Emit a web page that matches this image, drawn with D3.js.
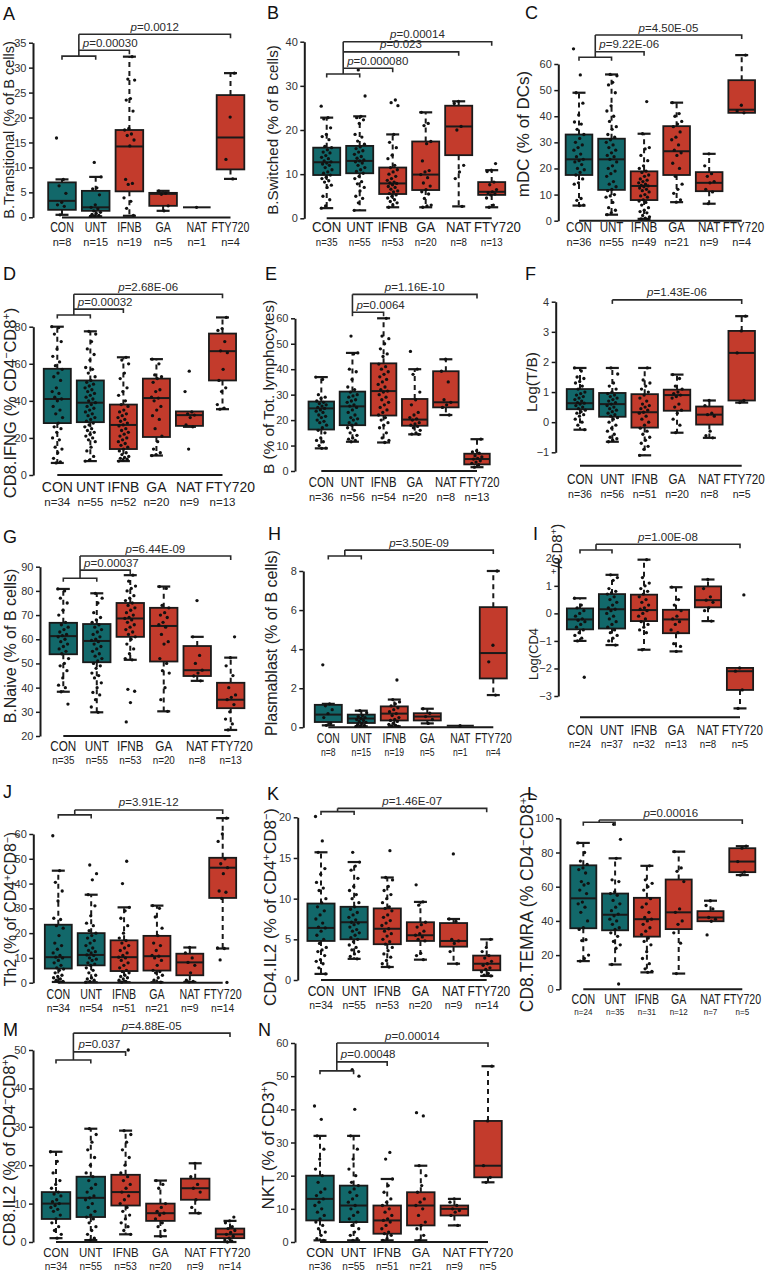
<!DOCTYPE html>
<html><head><meta charset="utf-8">
<script src="https://cdn.jsdelivr.net/npm/d3@7"></script>
<style>
html,body{margin:0;padding:0;background:#fff;}
svg{display:block;}
text{font-family:"Liberation Sans",Arial,Helvetica,sans-serif;}
</style>
</head><body>
<svg id="chart" width="769" height="1273"></svg>
<script>
// ---------------- DATA ----------------
const categories = ["CON","UNT","IFNB","GA","NAT","FTY720"];
const groupKind = ["ctrl","ctrl","trt","trt","trt","trt"];
const panelIds = ["A","B","C","D","E","F","G","H","I","J","K","L","M","N"];

// y-axis titles (segments; sup = superscript)
const titleA = [{t:"B.Transitional (% of B cells)"}];
const titleB = [{t:"B.Switched (% of B cells)"}];
const titleC = [{t:"mDC (% of DCs)"}];
const titleD = [{t:"CD8.IFNG (% CD4"},{t:"\u2212",sup:1},{t:"CD8"},{t:"+",sup:1},{t:")"}];
const titleE = [{t:"B (% of Tot. lymphocytes)"}];
const titleF = [{t:"Log(T/B)"}];
const titleG = [{t:"B.Naive (% of B cells)"}];
const titleH = [{t:"Plasmablast (% of B cells)"}];
const titleI = [{t:"Log(CD4"}];
const titleI2 = [{t:"+",sup:1},{t:"/CD8"},{t:"+",sup:1},{t:")"}];
const titleJ = [{t:"Th2 (% of CD4"},{t:"+",sup:1},{t:"CD8"},{t:"\u2212",sup:1},{t:")"}];
const titleK = [{t:"CD4.IL2 (% of CD4"},{t:"+",sup:1},{t:"CD8"},{t:"\u2212",sup:1},{t:")"}];
const titleL = [{t:"CD8.TEMRA (% CD4"},{t:"\u2212",sup:1},{t:"CD8"},{t:"+",sup:1},{t:")"}];
const titleM = [{t:"CD8.IL2 (% of CD4"},{t:"\u2212",sup:1},{t:"CD8"},{t:"+",sup:1},{t:")"}];
const titleN = [{t:"NKT (% of CD3"},{t:"+",sup:1},{t:")"}];

// y ticks
const ticksA = [0,5,10,15,20,25,30,35];
const ticksB = [0,10,20,30,40];
const ticksC = [0,10,20,30,40,50,60];
const ticksD = [0,20,40,60,80];
const ticksE = [0,10,20,30,40,50,60];
const ticksF = [-1,0,1,2,3,4];
const ticksG = [20,30,40,50,60,70,80,90];
const ticksH = [0,2,4,6,8];
const ticksI = [-3,-2,-1,0,1,2];
const ticksJ = [0,10,20,30,40,50,60];
const ticksK = [0,5,10,15,20];
const ticksL = [0,20,40,60,80,100];
const ticksM = [0,10,20,30,40,50];
const ticksN = [0,10,20,30,40,50,60];

// sample sizes
const nA = [8,15,19,5,1,4];
const nB = [35,55,53,20,8,13];
const nC = [36,55,49,21,9,4];
const nD = [34,55,52,20,9,13];
const nE = [36,56,54,20,8,13];
const nF = [36,56,51,20,8,5];
const nG = [35,55,53,20,8,13];
const nH = [8,15,19,5,1,4];
const nI = [24,37,32,13,8,5];
const nJ = [34,54,51,21,9,14];
const nK = [34,55,53,20,9,14];
const nL = [24,35,31,12,7,5];
const nM = [34,55,53,20,9,14];
const nN = [36,55,51,21,9,5];

// box stats per category: [lower whisker, Q1, median, Q3, upper whisker]
const statsA = [[0.5,1.5,3.3,7.0,7.6],[0.2,1.3,2.0,5.3,8.1],[0.3,5.2,14.2,17.5,32.2],[1.3,2.3,4.7,4.9,5.3],[2.0,2.0,2.0,2.0,2.0],[7.7,9.6,16.0,24.5,28.9]];
const statsB = [[2.3,9.8,12.7,16.0,22.8],[1.8,10.2,13.0,16.4,23.1],[2.5,5.5,7.9,11.5,19.0],[2.5,6.4,9.9,17.4,24.0],[2.7,14.3,20.8,25.5,26.5],[2.5,5.3,6.0,8.2,10.9]];
const statsC = [[5.8,17.5,23.5,33.0,49.0],[2.3,11.8,23.5,31.4,56.0],[0.7,7.9,13.3,18.9,33.3],[7.1,17.5,26.6,36.2,45.2],[6.5,11.3,14.5,18.6,25.6],[41.3,41.3,42.5,53.8,63.4]];
const statsD = [[6.5,28,41,57.3,80],[7.5,28.5,39,51,77.5],[7.5,14,27,38,63.5],[10.5,20.5,41.5,52,62.5],[26,26.5,32.3,34.3,34.3],[35.5,51,66.8,76.3,85]];
const statsE = [[8.9,16.3,24.6,27.3,36.9],[11.5,18,25.4,31.2,46.4],[11.2,21.8,31.4,42.3,60],[14.4,17.8,20.2,28.3,40],[22,25,27,39.2,43.9],[1.5,2.6,4.7,6.8,12.5]];
const statsF = [[-0.25,0.43,0.63,1.1,1.8],[-0.65,0.18,0.6,0.97,1.8],[-1.1,-0.18,0.33,0.93,1.8],[-0.35,0.38,0.9,1.08,1.58],[-0.52,-0.08,0.25,0.52,0.72],[0.65,0.72,2.3,3.03,3.52]];
const statsG = [[38.3,53.8,61.3,66.8,80.8],[29.8,50.5,59.3,66.3,79],[51.5,61,68.6,75,86.5],[30.2,50.8,65.5,73,81.8],[42.8,44.8,47.2,57.2,61],[22.5,31.5,35,42,52.4]];
const statsH = [[0.1,0.27,0.65,1.15,1.2],[0.05,0.22,0.45,0.65,0.85],[0.05,0.35,0.7,1.07,1.42],[0.2,0.35,0.55,0.72,0.95],[0.08,0.08,0.08,0.08,0.08],[1.65,2.5,3.8,6.15,8.0]];
const statsI = [[-1.0,-0.58,-0.22,0.18,0.55],[-1.15,-0.55,0.15,0.7,1.4],[-1.32,-0.28,0.12,0.68,1.95],[-1.38,-0.72,-0.22,0.13,0.95],[-0.28,0.22,0.48,0.98,1.23],[-3.45,-2.78,-2.1,-1.98,-1.98]];
const statsJ = [[0.3,5.7,10.3,23.4,45.2],[0.2,7,11.2,20,35.5],[0.2,4.7,10.3,17.1,30.4],[0.2,4.9,10.7,18.9,31.1],[0.3,3,8.2,11.7,14.2],[13.8,34.2,46.4,50.4,66.4]];
const statsK = [[0.75,4.8,6.4,9.4,15.7],[2.6,5.0,7.1,9.0,14.5],[1.6,4.4,6.3,8.8,12.6],[2.5,4.8,5.5,7.1,9.6],[2.0,4.1,4.8,7.0,7.5],[0.5,1.2,2.0,3.0,5.0]];
const statsL = [[16.5,35.7,53.2,72.5,85.6],[14.5,34.5,43.6,56,76.6],[9.9,30.8,41,53.5,72.2],[9.2,35.2,45,64.2,80.5],[39.8,39.8,42,45.7,51.8],[66.8,68.5,74.7,82.5,83.7]];
const statsM = [[1,6,10,13,23.5],[0.5,6.5,11.5,17,29.5],[2,9.5,13,17.5,29],[1.5,5.5,7.5,10,16],[7.5,11,14,16.5,20.5],[0,1,2,3.5,5.5]];
const statsN = [[0.5,6.5,13,20,32],[0.5,6,11,17,32],[0.5,2.5,6.5,11,19],[0.5,5,11,15,23],[5,8,10,11,13],[18,19.5,23,36.5,53]];

const ptsA = [[15.9,7.6,6.3,4.8,3.0,2.5,2.2,0.5],[11.0,8.1,5.9,5.7,4.5,2.5,2.0,1.7,1.3,1.0,0.8,0.6,0.4,0.3,0.2],[32.2,27.7,27.5,23.8,23.5,21.3,17.8,17.5,16.7,16.4,15.5,14.3,7.6,6.8,6.6,3.9,3.2,1.8,0.4],[5.3,4.8,4.6,2.3,1.3],[2.0],[28.9,20.1,11.6,7.7]];
const ptsB = [[25.4,22.8,22.5,20.5,19.0,18.5,17.8,16.3,16.0,15.5,15.0,14.8,14.2,13.8,13.5,13.0,12.8,12.5,12.3,12.0,11.5,11.0,10.5,10.2,9.8,9.3,9.0,8.5,8.2,7.5,7.0,5.0,4.2,2.8,2.3],
 [33.6,27.7,23.1,22.8,22.3,21.5,19.0,18.4,17.5,16.8,16.2,15.8,15.3,15.0,14.5,14.0,13.6,13.2,13.0,12.8,12.5,12.0,11.5,11.0,10.6,10.2,9.5,9.0,8.3,7.8,7.0,6.2,5.0,4.5,3.5,1.8],
 [26.8,26.2,25.5,19.0,17.2,16.0,14.3,13.5,12.0,11.5,11.0,10.5,10.0,9.5,9.0,8.6,8.2,8.0,7.9,7.6,7.2,7.0,6.6,6.2,6.0,5.6,5.3,5.0,4.6,4.2,3.8,3.5,3.0,2.5],
 [24.0,21.5,21.0,17.4,16.9,13.0,10.8,10.5,9.9,9.2,8.0,7.3,6.5,6.0,5.5,4.5,3.0,2.8,2.5],
 [26.5,26.0,20.8,20.0,12.0,10.5,9.0,2.7],
 [12.4,10.9,10.6,8.2,7.6,6.5,6.0,5.8,5.5,5.3,4.6,3.0,2.5]];
const ptsC = [[65.8,55.8,49.0,45,40.5,37.8,37,35,33,31.5,30,29,28,27,25.5,24.5,23.5,23,22.5,21.5,20,19.5,18.5,17.5,16,14.5,14,8.5,7.8,6,5.8],
 [56,55.5,53,52,49,44,42,40,38,36,35,33,32,31,30,29,28,27,26,25,24.5,23.5,22.5,21,20,19,18,17,15,14,13,12,11.5,10,9.5,9,7,5,4,3,2.3],
 [45.6,33.3,28,27.5,25,23,21,20,19,18.5,17.5,17,16,15.5,15,14.5,14,13.5,13.3,13,12.5,12,11.5,11,10,9.5,9,8,7.5,7,6,5,4,3.5,3,2,1.5,1,0.7,0.5],
 [45.2,41,40,38,37,36,34,32,31,29,27,26,25,22,20,17,14,12,10.5,8,7.1],
 [25.6,21,18,17,15,14.5,12,11,6.5],
 [63.4,44.2,42,41.3]];
const ptsD = [[80,79.5,76,72,68,64,61,59,57,55,53,51,47,45,44,42,41,40,37,35,33,31,28,26,25,23,20,19,15,14,12,9,7,6.5],
 [77.5,76,72,68,65,62,58,57,55,53,51,50,49,48,47,46,45,44,43,42,41,40,39,38,37,36,35,34,33,32,31,30,29,28,27,26,25,24,23,22,21,20,19,18,15,13,10,8,7.5],
 [63.5,62,60,55,52,47,45,43,40,38,37,35,34,33,32,31,30,29,28,27,26.5,25,24,23,22,21,20,19,18,17,16,15,14,13,12,11,10,9.5,9,8.5,8,7.5],
 [62.5,60,54,53,52,50,46,45,42,41.5,40,37,35,32,30,25,21,18,14,12,11,10.5],
 [56,45,34,33,32.3,31,27,26,14],
 [85,79,78,72,67,66,57,51,47,45,38,36,35.5]];
const ptsE = [[36.9,36,30,29,28.5,27.5,27,26.5,26,25.5,25,24.6,24,23.5,23,22,21.5,21,20,19.5,19,18,17,16,15,13,12,11.5,10,9,8.9],
 [53,46.4,46,40,39,36,33,32,31,30,29.5,29,28,27.5,27,26,25.5,25,24,23,22,21,20.5,20,19,18.5,18,17,16,15,14,13,12.5,12,11.5],
 [60,53,52,50,48,46,45,42,41,40,39,38,37,36,35,34,33,32,31.4,31,30,29,28,27,26,25,24,23,22,21,20,19,18,17,15,13,12,11.2],
 [47,40,38,31,28,26,23,22,21,20.5,20,19,18.5,18,17.5,17,16,15,14.5,14.4],
 [43.9,39.2,35,28,27,26,25,22],
 [12.5,8,7.5,7,6,5.5,5,4.7,4,3.5,3,2.5,1.5]];
const ptsF = [[1.8,1.7,1.5,1.45,1.35,1.3,1.2,1.1,1.0,0.95,0.9,0.85,0.8,0.75,0.7,0.65,0.63,0.6,0.55,0.5,0.45,0.4,0.35,0.3,0.25,0.2,0.1,0,-0.1,-0.25],
 [1.8,1.6,1.3,1.2,1.1,1.0,0.95,0.9,0.85,0.8,0.75,0.7,0.65,0.6,0.55,0.5,0.45,0.4,0.35,0.3,0.25,0.2,0.15,0.1,0,-0.1,-0.2,-0.3,-0.4,-0.5,-0.55,-0.6,-0.65],
 [1.8,1.4,1.3,1.2,1.1,1.0,0.9,0.8,0.7,0.6,0.55,0.5,0.45,0.4,0.33,0.3,0.2,0.1,0,-0.1,-0.2,-0.3,-0.4,-0.5,-0.6,-0.7,-0.8,-0.9,-1.1],
 [1.58,1.45,1.2,1.1,1.0,0.95,0.9,0.85,0.8,0.6,0.5,0.4,0.3,0.1,-0.1,-0.35],
 [0.72,0.55,0.3,0.25,0.2,-0.3,-0.45,-0.52],
 [3.52,3.03,2.3,0.72,0.65]];
const ptsG = [[80.8,80,77,75,72,70,67,66,65,64,63,62,61.5,61,60,59,58,57,56,55,54,52,50,49,47,44,41,40,38.3,33.2],
 [79,77,75,71,69,68,67,66,65,64,63,62,61,60,59.5,59,58,57,56,55,54,53,52,51,50,49,48,46,45,44,42,40,38,37,35,32,29.8],
 [86.5,84,82,81,80,78,77,76,75,74,73,72,71,70,69,68.6,68,67,66,65,64,63,62,61,60,58,56,54,52,51.5,39.3,38.5,33.8,25.8],
 [81.8,81,74,73,71,70,69,67,66,65,62,59,58,52,50,47,46,40,35,30.2],
 [76,61,53.3,50,47.2,46,44.8,42.8],
 [61,52.4,49,45,40,37,36,35,33,30,27,25,22.5]];
const ptsH = [[3.2,1.2,1.1,0.9,0.7,0.5,0.2,0.1],
 [0.85,0.75,0.6,0.55,0.5,0.45,0.4,0.35,0.3,0.25,0.2,0.15,0.1,0.07,0.05],
 [2.42,1.42,1.3,1.2,1.1,1.0,0.9,0.8,0.7,0.6,0.5,0.4,0.35,0.3,0.2,0.15,0.1,0.07,0.05],
 [0.95,0.72,0.55,0.4,0.2],
 [0.08],
 [8.0,4.2,3.35,1.65]];
const ptsI = [[0.55,0.3,0.2,0.1,0,-0.1,-0.2,-0.25,-0.3,-0.4,-0.5,-0.6,-0.7,-0.8,-0.9,-1.0,-2.32],
 [1.4,1.3,1.2,0.9,0.8,0.75,0.7,0.6,0.5,0.4,0.3,0.2,0.15,0.1,0,-0.1,-0.2,-0.3,-0.4,-0.5,-0.6,-0.7,-0.8,-0.9,-1.0,-1.15],
 [1.95,1.3,1.1,1.0,0.9,0.8,0.7,0.6,0.5,0.4,0.3,0.2,0.15,0.1,0,-0.1,-0.2,-0.3,-0.4,-0.5,-0.6,-0.7,-1.32],
 [0.95,0.5,0.3,0.1,-0.1,-0.2,-0.3,-0.4,-0.6,-0.7,-1.1,-1.2,-1.38],
 [1.23,0.9,0.6,0.48,0.4,0.2,0.1,-0.28],
 [0.67,-1.98,-2.1,-2.78,-3.45]];
const ptsJ = [[59.3,45.2,40.5,37,33,26,25.5,23,22,19,16,15,13.5,12,11,10.3,10,9,8,7,6,5.5,5,4,3,2.5,2,1.5,1,0.5,0.3],
 [47.5,44,41.5,35.5,31,27,24,23,21,20,19,18,17,16,15,14,13,12.5,12,11.2,11,10,9.5,9,8,7.5,7,6,5,4,3,2,1.5,1,0.5,0.2],
 [49,40,30.4,29,26,23,20,18,17,16,15,14,13,12,11,10.3,10,9,8,7,6,5,4.5,4,3,2.5,2,1.5,1,0.5,0.2],
 [31.1,30,26.5,22,19,16,15,13,11,10.7,10,9,7,5,4.5,4,3,2,1,0.2],
 [14.2,12,10,8.2,7,4,1,0.5,0.3],
 [66.4,60,57,50,48,46.4,44,37,36.5,34,14,13.8,9.2,0.1]];
const ptsK = [[20.1,17.1,15.7,13.7,13,12,11.3,11,10,9.5,9,8.5,8,7.5,7,6.5,6.4,6,5.5,5,4.5,4,3.7,3.5,3,2.5,2.3,2,1.5,0.75],
 [15.7,14.5,14,13.5,12.5,11.5,11,10.5,10,9.5,9,8.7,8.3,8,7.7,7.4,7.1,7,6.8,6.5,6.2,6,5.8,5.5,5.2,5,4.7,4.3,4,3.7,3.5,3.2,2.9,2.6],
 [15.9,12.6,12.3,11.5,11,10.5,10,9.5,9,8.8,8.5,8,7.7,7.3,7,6.7,6.3,6,5.7,5.4,5,4.7,4.4,4,3.6,3.2,2.8,2.4,2,1.6],
 [11.7,9.6,9.2,7.1,6.8,6.5,6,5.7,5.5,5.3,5,4.8,3.3,3,2.5],
 [15.5,7.5,7.2,5,4.8,4.5,3.5,2.0],
 [5.0,4.0,3.5,3,2.7,2.3,2,1.8,1.5,1.3,1,0.8,0.6,0.5]];
const ptsL = [[85.6,80,75,73,71,70,68,63,62,61,58,56,51,50,48,45,40,36,35,29,28.5,20,18,16.5],
 [96.5,87.7,76.6,64,63,57,56,55,52,50,48,46,44,43,41,40,38,36,35,33,31,28,26,24,14.5,3.1],
 [72.2,64,62,60,58,53,50,48,45,42,41,40,38,36,34,32,30,28,26,22,18,15,12,10.5,9.9],
 [80.5,71,69,63,47,45,40,38,33,27,9.2],
 [51.8,49,47,42,41,39.8,31.8],
 [83.7,82.5,74.7,68.5,66.8]];
const ptsM = [[23.5,21,18,16,15,14,13,12.5,12,11,10.5,10,9.5,9,8.5,8,7,6,5,4,3,2,1],
 [29.5,28,26,24,22,20,18,17,16,15,14,13,12,11.5,11,10,9,8,7,6.5,6,5,4,3,2,1,0.5],
 [50,29,28,26,24,22,20,18,17,16,15,14,13,12,11,10,9,8,7,6,5,4,3,2],
 [16,15,14,10,9,8,7.5,7,6,5,4,3,1.5],
 [20.5,17,15,14,13,11,9,7.5],
 [6.5,5.5,5,4,3.5,3,2.5,2,1.5,1,0.5,0.3,0]];
const ptsN = [[41,37,32,28,25,22,20,18,16,15,14,13,12,11,10,9,8,7,6,5,4,3,2,1,0.5],
 [52,50,40,32,28,25,22,20,18,17,16,15,14,13,12,11,10,9,8,7,6,5,4,3,2,1,0.5],
 [27,25,19,17,15,13,12,11,10,9,8,7,6.5,6,5,4,3,2.5,2,1,0.5],
 [39,38,23,20,17,15,13,12,11,10,8,6,5,4,2,0.5],
 [13,12,11,10,9.5,9,8,5],
 [53,36.5,23,19.5,18]];

// significance tests: [reference group indices, target index, p-value text]
const testsA = [[[0,1],2,"0.00030"],[[0,1],5,"0.0012"]];
const testsB = [[[0,1],2,"0.000080"],[[0,1],4,"0.023"],[[0,1],5,"0.00014"]];
const testsC = [[[0,1],2,"9.22E-06"],[[0,1],5,"4.50E-05"]];
const testsD = [[[0,1],2,"0.00032"],[[0,1],5,"2.68E-06"]];
const testsE = [[[1],2,"0.0064"],[[1],5,"1.16E-10"]];
const testsF = [[[1],5,"1.43E-06"]];
const testsG = [[[0,1],2,"0.00037"],[[0,1],5,"6.44E-09"]];
const testsH = [[[0,1],5,"3.50E-09"]];
const testsI = [[[0,1],5,"1.00E-08"]];
const testsJ = [[[0,1],5,"3.91E-12"]];
const testsK = [[[0,1],5,"1.46E-07"]];
const testsL = [[[0,1],5,"0.00016"]];
const testsM = [[[0,1],2,"0.037"],[[0,1],5,"4.88E-05"]];
const testsN = [[[0,1],2,"0.00048"],[[0,1],5,"0.00014"]];

// ---------------- LAYOUT (positions / sizes) ----------------
const layout = {
 A:{ax:33, yv:[0,35], yp:[217.3,42.7], xl:217.5, cx:[62,230.5], catY:233.3, nY:245, catFs:15, catSx:0.71, nFs:11, nSx:1.0, tt:[9,130,14.5], lt:[3,20], grp:32.3, lev:[33.5,36.7]},
 B:{ax:304.3, yv:[0,40], yp:[218.3,41.7], xl:218.3, cx:[326.7,491.7], catY:233.3, nY:245, catFs:15, catSx:0.88, nFs:11, nSx:0.88, tt:[273,130,15.2], lt:[267,18.5], grp:32.7, lev:[34.0,37.7,40.0]},
 C:{ax:558.3, yv:[0,60], yp:[220.7,64], xl:220.7, cx:[579,741.7], catY:233.3, nY:245, catFs:14.5, catSx:0.8, nFs:11, nSx:1.0, tt:[523.5,134,17], lt:[525,18.5], grp:62.6, lev:[64.7,71.1]},
 D:{ax:33.3, yv:[0,80], yp:[475,326.7], xl:475, cx:[57.3,222.5], catY:494.3, nY:504.3, catFs:15, catSx:0.93, nFs:11.5, nSx:1.0, tt:[10,403,16.5], lt:[3,280], grp:86.3, lev:[89.5,97.5]},
 E:{ax:295, yv:[0,60], yp:[471,318.3], xl:471, cx:[321.3,477], catY:488.3, nY:500, catFs:15.5, catSx:0.73, nFs:11, nSx:1.0, tt:[268.5,387,15.4], lt:[265,280], grp:null, lev:[62.4,69.4]},
 F:{ax:555.7, yv:[-1,4], yp:[452.3,301.7], xl:465.7, cx:[580,741.7], catY:485, nY:496.7, catFs:15, catSx:0.78, nFs:11.5, nSx:0.92, tt:[531.5,382,15.4], lt:[525,280], grp:null, lev:[4.06]},
 G:{ax:40, yv:[20,90], yp:[736,566.7], xl:736, cx:[63.3,230.7], catY:753.3, nY:761.7, catFs:14, catSx:0.84, nFs:10.5, nSx:0.94, tt:[10,646,16], lt:[3,543], grp:85.2, lev:[88.6,94.4]},
 H:{ax:303.3, yv:[0,8], yp:[727.3,571], xl:727.3, cx:[328.3,493.3], catY:745, nY:753.3, catFs:14, catSx:0.74, nFs:10.5, nSx:0.82, tt:[271.5,643,16], lt:[268,540], grp:8.77, lev:[9.07]},
 I:{ax:558.3, yv:[-3,2], yp:[696,558.3], xl:717.3, cx:[580,740], catY:736.7, nY:746.7, catFs:14.5, catSx:0.8, nFs:11, nSx:0.88, tt:[533.5,654,13], tt2:[557,549,15], lt:[533,540], grp:2.30, lev:[2.51]},
 J:{ax:33.3, yv:[0,60], yp:[982.7,834], xl:982.7, cx:[58.3,222.7], catY:1000, nY:1010.7, catFs:14, catSx:0.76, nFs:11, nSx:0.94, tt:[10,909,15.9], lt:[3,798], grp:67.7, lev:[69.7]},
 K:{ax:297.7, yv:[0,20], yp:[980,817.3], xl:980, cx:[321,486.7], catY:997.3, nY:1007.7, catFs:15, catSx:0.8, nFs:11, nSx:0.95, tt:[270,907,17], lt:[267,800], grp:20.7, lev:[21.1]},
 L:{ax:560, yv:[0,100], yp:[989.3,818.3], xl:989.3, cx:[583.3,742.3], catY:1005, nY:1014, catFs:14.5, catSx:0.73, nFs:9.5, nSx:0.85, tt:[526.5,902,17.5], lt:[527,800], grp:97.7, lev:[99.0]},
 M:{ax:33, yv:[0,50], yp:[1242,1050], xl:1242, cx:[56,230], catY:1257.5, nY:1269.5, catFs:13.5, catSx:0.85, nFs:10.5, nSx:0.95, tt:[9,1150,16.5], lt:[3,1036], grp:47.4, lev:[49.5,54.4]},
 N:{ax:295, yv:[0,60], yp:[1242,1043], xl:1242, cx:[320,488], catY:1257.5, nY:1269.5, catFs:13.5, catSx:0.92, nFs:10.5, nSx:0.95, tt:[268,1145,17], lt:[258,1036], grp:51.6, lev:[54.3,60.0]}
};

const colors = {ctrl:"#12686a", trt:"#c33b2c"};
const ink = "#1a1a1a";
const maxRight = 766;

// ---------------- DRAW ----------------
const svg = d3.select("#chart");

function addTitle(g, segs, x, y, fs) {
  const t = g.append("text")
    .attr("transform", `translate(${x},${y}) rotate(-90)`)
    .attr("text-anchor","middle").attr("dy","0.35em")
    .attr("font-size", fs).attr("fill","#222");
  segs.forEach(s => {
    if (s.sup) t.append("tspan").attr("baseline-shift","super").attr("font-size", fs*0.65).text(s.t);
    else t.append("tspan").text(s.t);
  });
}

// place a row of horizontally-scaled labels, pushing right any that would collide
function labelRow(g, texts, xs, yPos, fs, sx, fill, gap) {
  const els = texts.map(s => g.append("text").attr("text-anchor","middle")
    .attr("font-size", fs).attr("fill", fill).text(s));
  let prevRight = -Infinity;
  els.forEach((el,i) => {
    const w = el.node().getComputedTextLength() * sx;
    let cx = xs[i];
    if (cx - w/2 < prevRight + gap) cx = prevRight + gap + w/2;
    if (cx + w/2 > maxRight) cx = maxRight - w/2;
    prevRight = cx + w/2;
    el.attr("transform", `translate(${cx},${yPos}) scale(${sx},1)`);
  });
}

function drawPanel(id, data) {
  const lay = layout[id];
  const g = svg.append("g").attr("class","panel-"+id);
  const y = d3.scaleLinear().domain(lay.yv).range(lay.yp);
  const x = d3.scalePoint().domain(categories).range(lay.cx).padding(0);
  const step = x.step();
  const bw = step * 0.82;
  const cw = 13;

  // y axis
  const ag = g.append("g").attr("transform", `translate(${lay.ax},0)`)
    .call(d3.axisLeft(y).tickValues(data.ticks).tickSize(4).tickSizeOuter(0).tickPadding(2.5).tickFormat(d3.format("d")));
  ag.attr("font-family", null).attr("font-size", 11);
  ag.select(".domain").attr("stroke", ink).attr("stroke-width", 2);
  ag.selectAll(".tick line").attr("stroke", ink).attr("stroke-width", 1.5);
  ag.selectAll(".tick text").attr("fill", "#333");

  // bottom axis line
  g.append("line").attr("x1", x(categories[0])).attr("x2", x(categories[categories.length-1]))
    .attr("y1", lay.xl).attr("y2", lay.xl).attr("stroke", ink).attr("stroke-width", 2);

  // category and n labels (keep the two rows from colliding)
  let catY = lay.catY, nY = lay.nY;
  const need = 0.905*lay.nFs + 0.212*lay.catFs + 0.3 - (nY - catY);
  if (need > 0) { catY -= need/2; nY += need/2; }
  const xs = categories.map(c => x(c));
  labelRow(g, categories, xs, catY, lay.catFs, lay.catSx, "#1a1a1a", 2.5);
  labelRow(g, data.n.map(v => "n=" + v), xs, nY, lay.nFs, lay.nSx, "#222", 2);

  // boxes
  data.stats.forEach((s,i) => {
    const cx = x(categories[i]);
    const [lo,q1,md,q3,hi] = s;
    const bg = g.append("g");
    if (lo < q1) {
      bg.append("line").attr("x1",cx).attr("x2",cx).attr("y1",y(q1)).attr("y2",y(lo))
        .attr("stroke",ink).attr("stroke-width",2).attr("stroke-dasharray","5,4");
      bg.append("line").attr("x1",cx-cw/2).attr("x2",cx+cw/2).attr("y1",y(lo)).attr("y2",y(lo))
        .attr("stroke",ink).attr("stroke-width",2.2);
    }
    if (hi > q3) {
      bg.append("line").attr("x1",cx).attr("x2",cx).attr("y1",y(q3)).attr("y2",y(hi))
        .attr("stroke",ink).attr("stroke-width",2).attr("stroke-dasharray","5,4");
      bg.append("line").attr("x1",cx-cw/2).attr("x2",cx+cw/2).attr("y1",y(hi)).attr("y2",y(hi))
        .attr("stroke",ink).attr("stroke-width",2.2);
    }
    bg.append("rect").attr("x",cx-bw/2).attr("width",bw)
      .attr("y",y(q3)).attr("height",Math.max(0,y(q1)-y(q3)))
      .attr("fill",colors[groupKind[i]]).attr("stroke",ink).attr("stroke-width",1.8);
    bg.append("line").attr("x1",cx-bw/2).attr("x2",cx+bw/2).attr("y1",y(md)).attr("y2",y(md))
      .attr("stroke",ink).attr("stroke-width",2);
  });

  // points (deterministic horizontal spread)
  data.pts.forEach((arr,i) => {
    const cx = x(categories[i]);
    g.append("g").selectAll("circle").data(arr).join("circle")
      .attr("cx",(v,k) => cx + ((((k*0.618034) + i*0.37) % 1) - 0.5) * 11)
      .attr("cy",v => y(v)).attr("r",1.65).attr("fill","#111");
  });

  // significance brackets
  const tick = 4;
  const ref = data.tests[0][0];
  const stemX = ref.length === 2 ? (x(categories[ref[0]]) + x(categories[ref[1]]))/2 : x(categories[ref[0]]);
  const levels = lay.lev.map(v => y(v));
  const top = Math.min(...levels);
  let bottom;
  const bk = g.append("g").attr("fill","none").attr("stroke","#2a2a2a").attr("stroke-width",1.6);
  if (ref.length === 2) {
    const gy = y(lay.grp);
    const x0 = x(categories[ref[0]]), x1 = x(categories[ref[1]]);
    bk.append("path").attr("d", `M${x0},${gy+3.5}V${gy}H${x1}V${gy+3.5}`);
    bottom = gy;
  } else {
    bottom = Math.max(...levels) + tick;
  }
  bk.append("path").attr("d", `M${stemX},${top}V${bottom}`);
  data.tests.forEach((t,k) => {
    const ly = levels[k];
    const tx = x(categories[t[1]]);
    bk.append("path").attr("d", `M${stemX},${ly}H${tx}V${ly+tick}`);
    const txt = g.append("text").attr("y",ly-3.5)
      .attr("text-anchor","middle").attr("font-size",11.5).attr("fill","#2a2a2a");
    txt.append("tspan").attr("font-style","italic").text("p");
    txt.append("tspan").text("=" + t[2]);
    const w = txt.node().getComputedTextLength();
    txt.attr("x", Math.max((stemX+tx)/2, stemX + 4 + w/2));
  });

  // y title
  addTitle(g, data.title, lay.tt[0], lay.tt[1], lay.tt[2]);
  if (data.title2) addTitle(g, data.title2, lay.tt2[0], lay.tt2[1], lay.tt2[2]);

  // panel letter
  g.append("text").attr("x",lay.lt[0]).attr("y",lay.lt[1]).attr("font-size",18).attr("fill","#111").text(id);
}

const panelData = {
 A:{stats:statsA, pts:ptsA, n:nA, ticks:ticksA, tests:testsA, title:titleA},
 B:{stats:statsB, pts:ptsB, n:nB, ticks:ticksB, tests:testsB, title:titleB},
 C:{stats:statsC, pts:ptsC, n:nC, ticks:ticksC, tests:testsC, title:titleC},
 D:{stats:statsD, pts:ptsD, n:nD, ticks:ticksD, tests:testsD, title:titleD},
 E:{stats:statsE, pts:ptsE, n:nE, ticks:ticksE, tests:testsE, title:titleE},
 F:{stats:statsF, pts:ptsF, n:nF, ticks:ticksF, tests:testsF, title:titleF},
 G:{stats:statsG, pts:ptsG, n:nG, ticks:ticksG, tests:testsG, title:titleG},
 H:{stats:statsH, pts:ptsH, n:nH, ticks:ticksH, tests:testsH, title:titleH},
 I:{stats:statsI, pts:ptsI, n:nI, ticks:ticksI, tests:testsI, title:titleI, title2:titleI2},
 J:{stats:statsJ, pts:ptsJ, n:nJ, ticks:ticksJ, tests:testsJ, title:titleJ},
 K:{stats:statsK, pts:ptsK, n:nK, ticks:ticksK, tests:testsK, title:titleK},
 L:{stats:statsL, pts:ptsL, n:nL, ticks:ticksL, tests:testsL, title:titleL},
 M:{stats:statsM, pts:ptsM, n:nM, ticks:ticksM, tests:testsM, title:titleM},
 N:{stats:statsN, pts:ptsN, n:nN, ticks:ticksN, tests:testsN, title:titleN}
};

panelIds.forEach(id => drawPanel(id, panelData[id]));
</script>
</body></html>
